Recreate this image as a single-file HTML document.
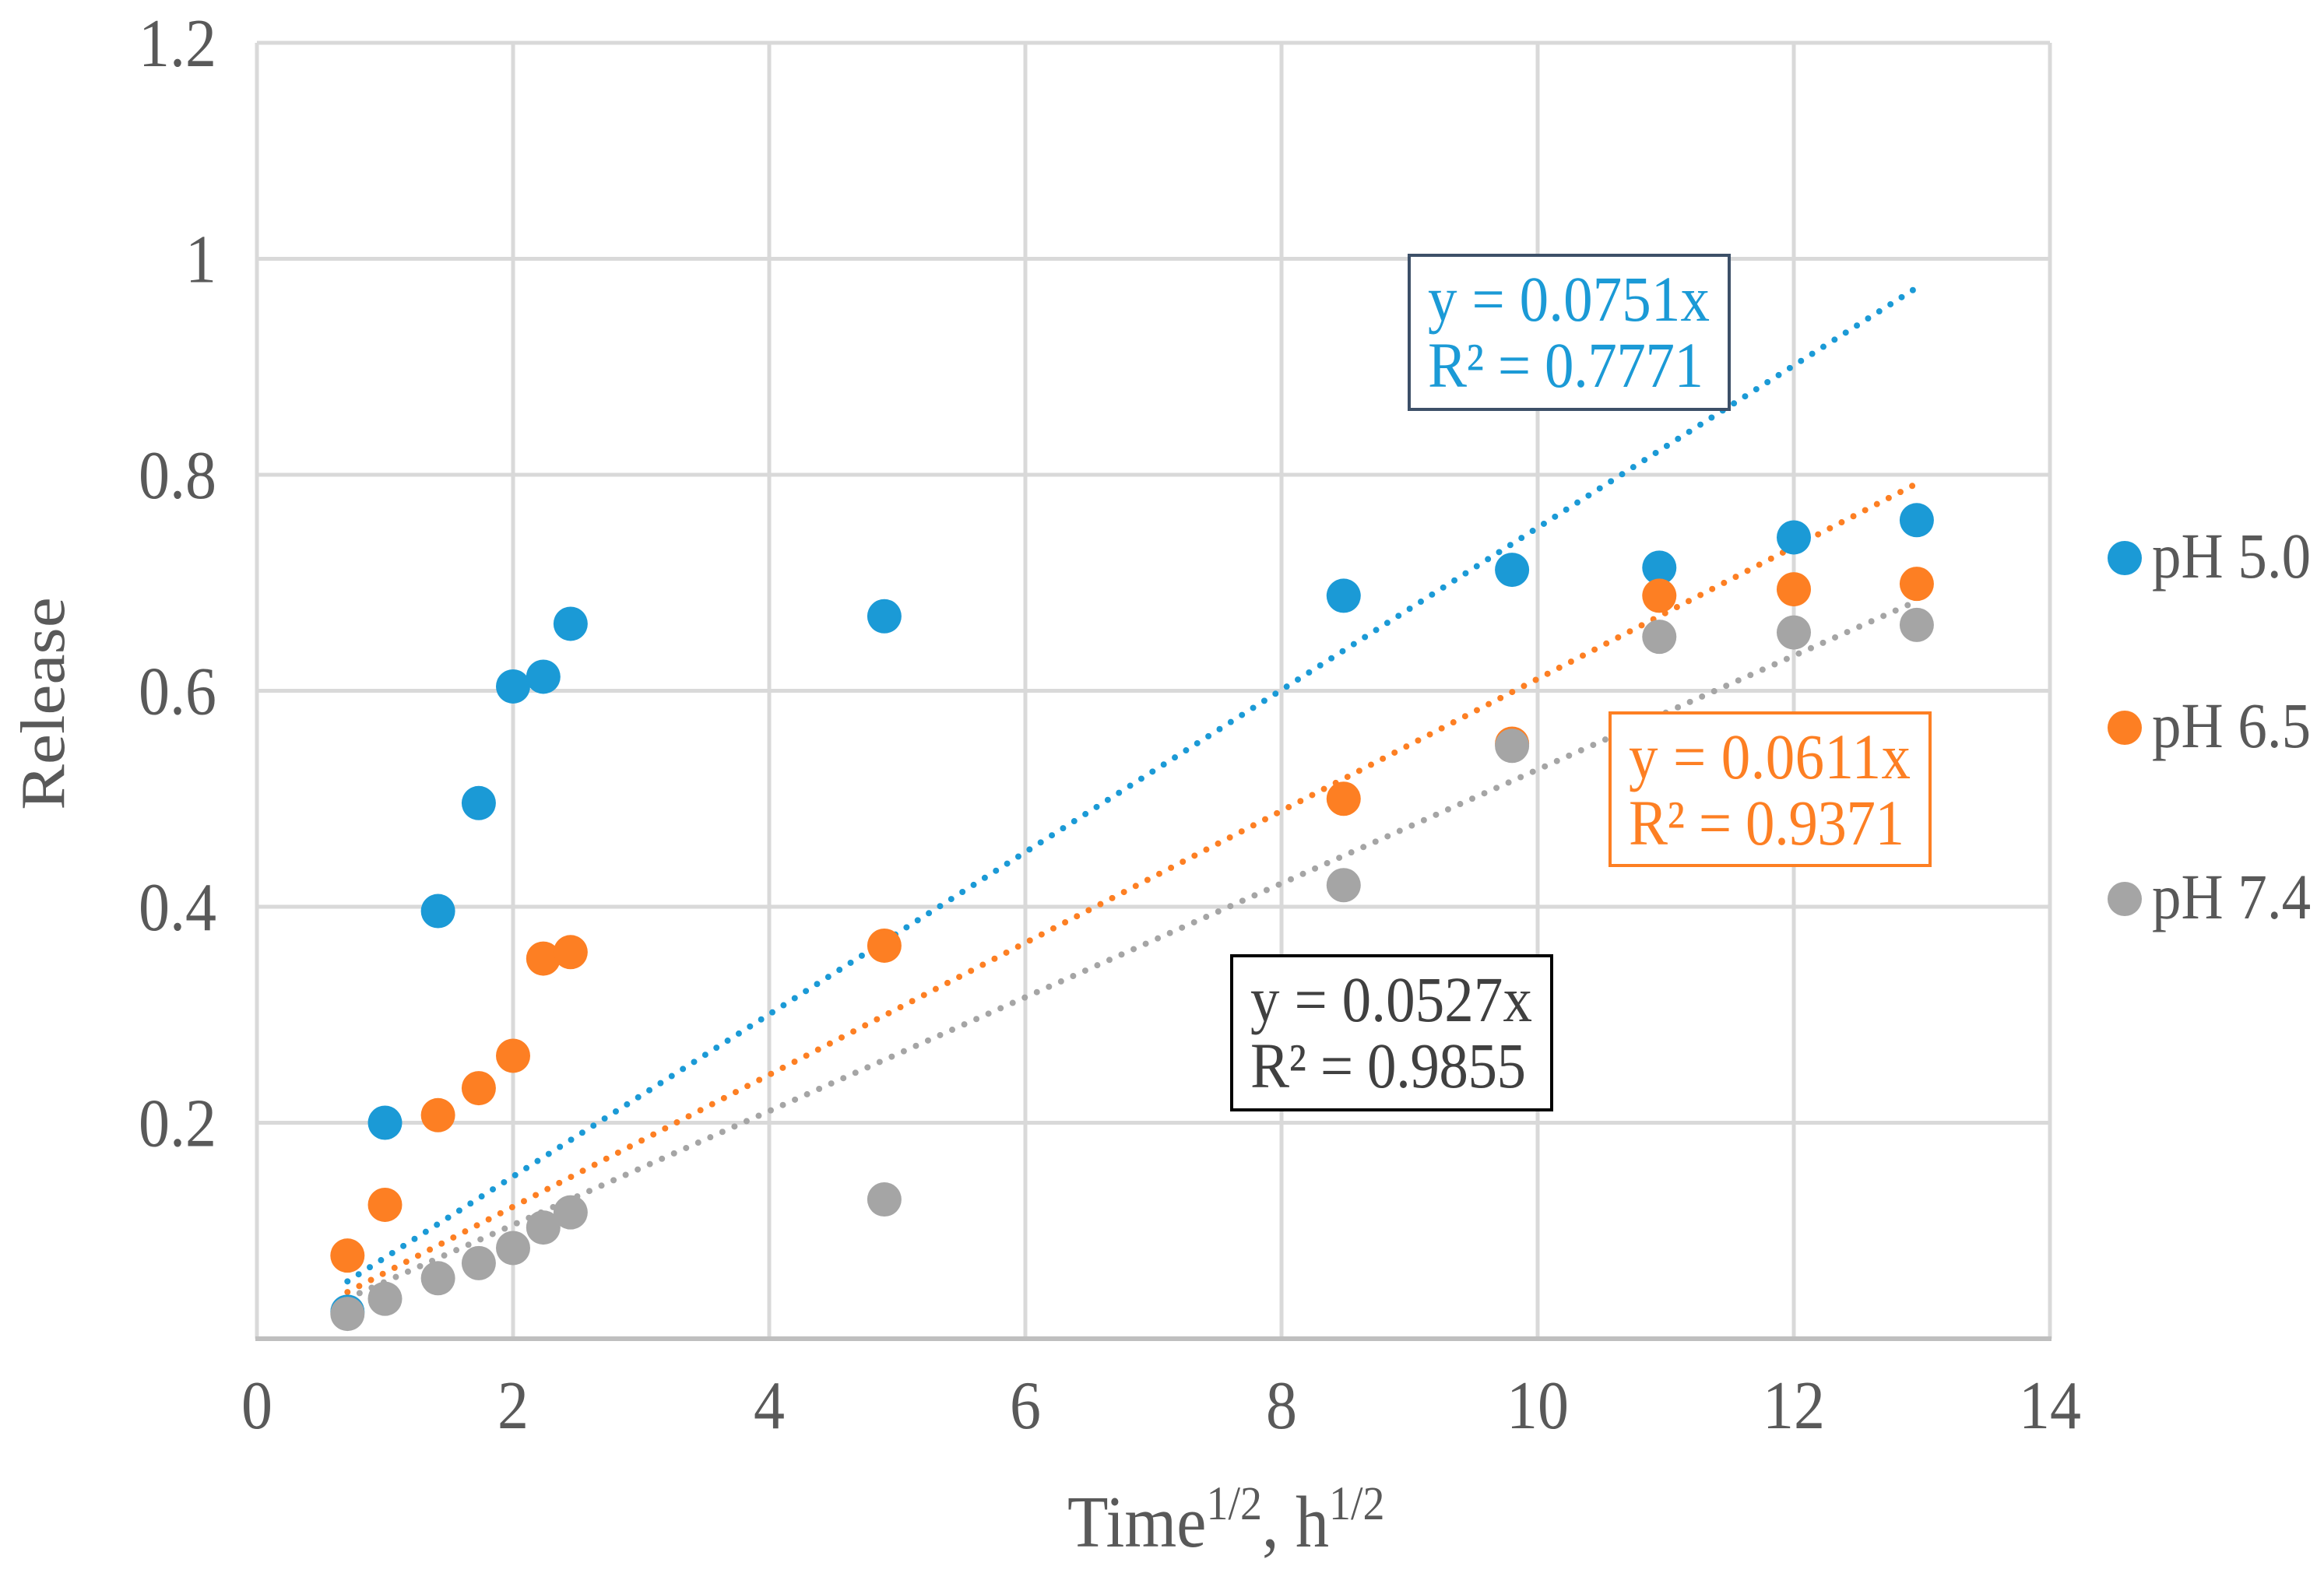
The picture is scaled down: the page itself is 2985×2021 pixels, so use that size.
<!DOCTYPE html>
<html><head><meta charset="utf-8"><style>
html,body{margin:0;padding:0;background:#fff;}
svg{display:block;font-family:"Liberation Serif",serif;}
</style></head><body>
<svg id="chart" width="2985" height="2021" viewBox="0 0 2985 2021" xmlns="http://www.w3.org/2000/svg">
<g id="grid"></g>
<g id="trends"></g>
<g id="points"></g>
<g id="labels"></g>
<g>
<rect x="1810" y="328" width="411" height="198" fill="#fff" stroke="#3d5068" stroke-width="4"/>
<text transform="translate(1834,412) scale(1,1.1)" font-size="75" fill="#1b9ad6" textLength="362">y = 0.0751x</text>
<text transform="translate(1834,497) scale(1,1.1)" font-size="75" fill="#1b9ad6" textLength="354">R² = 0.7771</text>
</g>
<g>
<rect x="2068" y="916" width="411" height="196" fill="#fff" stroke="#fd7f23" stroke-width="4"/>
<text transform="translate(2092,1000) scale(1,1.1)" font-size="75" fill="#fd7f23" textLength="362">y = 0.0611x</text>
<text transform="translate(2092,1085) scale(1,1.1)" font-size="75" fill="#fd7f23" textLength="354">R² = 0.9371</text>
</g>
<g>
<rect x="1582" y="1228" width="411" height="198" fill="#fff" stroke="#000" stroke-width="4"/>
<text transform="translate(1606,1312) scale(1,1.1)" font-size="75" fill="#404040" textLength="362">y = 0.0527x</text>
<text transform="translate(1606,1397) scale(1,1.1)" font-size="75" fill="#404040" textLength="354">R² = 0.9855</text>
</g>
<g id="legend"></g>
</svg>
<script>
const xTicks = [0,2,4,6,8,10,12,14];
const yTicks = [0.2,0.4,0.6,0.8,1,1.2];
const yTickLabels = ["0.2","0.4","0.6","0.8","1","1.2"];
const xValues = [0.707,1,1.414,1.732,2,2.236,2.449,4.899,8.485,9.8,10.95,12,12.96];
const seriesNames = ["pH 5.0","pH 6.5","pH 7.4"];
const ph50 = [0.025,0.200,0.396,0.496,0.604,0.613,0.662,0.669,0.688,0.712,0.714,0.742,0.758];
const ph65 = [0.077,0.124,0.207,0.232,0.262,0.352,0.358,0.364,0.500,0.551,0.688,0.694,0.699];
const ph74 = [0.023,0.037,0.056,0.070,0.084,0.103,0.117,0.129,0.420,0.549,0.650,0.654,0.661];
const slopes = [0.0751,0.0611,0.0527];

const NS="http://www.w3.org/2000/svg";
const X0=330, XS=164.5, Y0=1720, YS=1387.5;
function sx(v){return X0+v*XS;}
function sy(v){return Y0-v*YS;}
function mk(tag,attrs,parent){const e=document.createElementNS(NS,tag);for(const k in attrs)e.setAttribute(k,attrs[k]);parent.appendChild(e);return e;}
const colors=["#1b9ad6","#fd7f23","#a5a5a5"];
const series=[ph50,ph65,ph74];
const grid=document.getElementById('grid');
xTicks.forEach(t=>{
  const l=mk('line',{x1:sx(t),x2:sx(t),y1:sy(1.2),y2:Y0,stroke:'#d9d9d9','stroke-width':5},grid);
  
  
});
yTicks.forEach(t=>{
  const l=mk('line',{x1:X0,x2:sx(14),y1:sy(t),y2:sy(t),stroke:'#d9d9d9','stroke-width':5},grid);
  
  
});
const ax=mk('line',{x1:X0-2,x2:sx(14)+2,y1:Y0,y2:Y0,stroke:'#bfbfbf','stroke-width':6},grid);



const labels=document.getElementById('labels');
xTicks.forEach(t=>{
  const e=mk('text',{transform:`translate(${sx(t)},1835) scale(1,1.1)`,'font-size':80,fill:'#595959','text-anchor':'middle'},labels);
  e.textContent=String(t);
  
  
});
yTicks.forEach((t,i)=>{
  const e=mk('text',{transform:`translate(278,${sy(t)+30}) scale(1,1.1)`,'font-size':80,fill:'#595959','text-anchor':'end'},labels);
  e.textContent=yTickLabels[i];
  
  
});
const yt=mk('text',{transform:'translate(82,904) rotate(-90) scale(1.1,1)','font-size':80,fill:'#595959','text-anchor':'middle'},labels);
yt.textContent='Release';


const xt=mk('text',{transform:'translate(1371,1987) scale(1,1.1)','font-size':86,fill:'#595959'},labels);
xt.innerHTML='Time<tspan font-size="56" dy="-32">1/2</tspan><tspan dy="32">, h</tspan><tspan font-size="56" dy="-32">1/2</tspan>';



const trends=document.getElementById('trends');
slopes.forEach((m,i)=>{
  const x1=xValues[0], x2=xValues[xValues.length-1];
  const l=mk('line',{x1:sx(x1),y1:sy(m*x1),x2:sx(x2),y2:sy(m*x2),stroke:colors[i],'stroke-width':8,'stroke-dasharray':'0 17','stroke-linecap':'round'},trends);
  
  
});
const pts=document.getElementById('points');
[0,1,2].forEach(si=>{
  series[si].forEach((v,j)=>{
    const c=mk('circle',{cx:sx(xValues[j]),cy:sy(v),r:22,fill:colors[si]},pts);
    
    
  });
});
const leg=document.getElementById('legend');
const legY=[717,935,1155];
seriesNames.forEach((n,i)=>{
  const c=mk('circle',{cx:2729,cy:legY[i],r:22,fill:colors[i]},leg);
  
  
  const t=mk('text',{transform:`translate(2764,${legY[i]+25}) scale(1,1.1)`,'font-size':75,fill:'#595959'},leg);
  t.textContent=n;
  
  
});
</script>
</body></html>
